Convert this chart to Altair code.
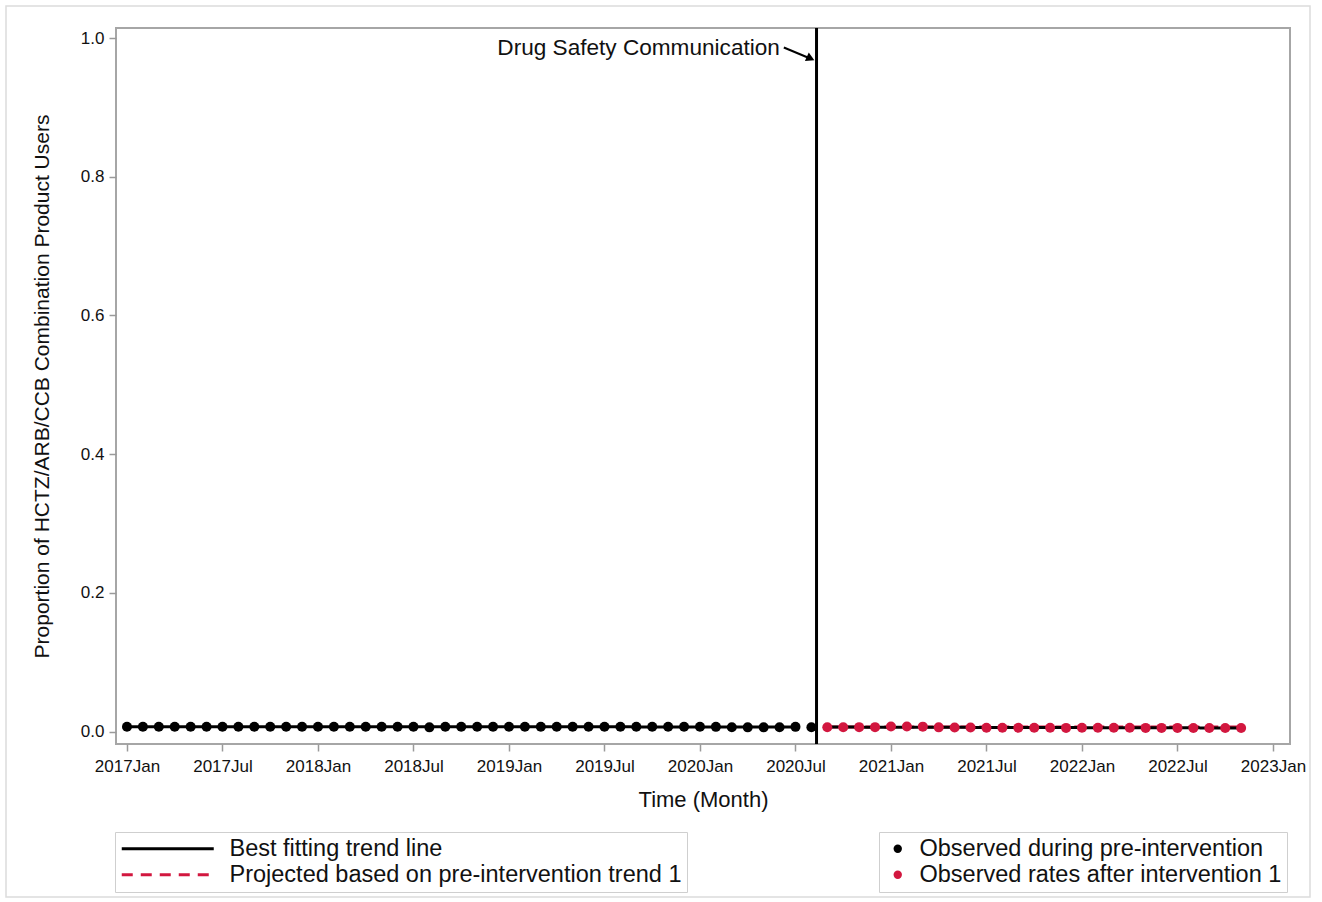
import json
import altair as alt
import pandas as pd

FONT = "Liberation Sans"
RED = "#d2173f"

# ---------------- data ----------------
pre_start = "2017-01-01"
pre_values = [
    0.0069, 0.0069, 0.0069, 0.0069, 0.0069, 0.0069, 0.0069, 0.0069, 0.0069, 0.0069, 0.0069, 0.0069,  # 2017
    0.0069, 0.0069, 0.0068, 0.0068, 0.0068, 0.0068, 0.0068, 0.0060, 0.0068, 0.0068, 0.0068, 0.0068,  # 2018
    0.0068, 0.0068, 0.0068, 0.0068, 0.0068, 0.0068, 0.0068, 0.0068, 0.0068, 0.0068, 0.0068, 0.0068,  # 2019
    0.0068, 0.0067, 0.0061, 0.0060, 0.0060, 0.0061, 0.0067, 0.0062,                                  # 2020 Jan-Aug
]
post_start = "2020-09-01"
post_values = [
    0.0062, 0.0062, 0.0063, 0.0063,                                                                  # 2020 Sep-Dec
    0.0071, 0.0071, 0.0070, 0.0060, 0.0059, 0.0059, 0.0054, 0.0054, 0.0054, 0.0054, 0.0053, 0.0052,  # 2021
    0.0053, 0.0053, 0.0053, 0.0053, 0.0052, 0.0052, 0.0052, 0.0051, 0.0051, 0.0051, 0.0051,          # 2022 Jan-Nov
]
point_series = ["Observed during pre-intervention", "Observed rates after intervention 1"]

intervention_date = "2020-08-11"

tick_labels = ["2017Jan", "2017Jul", "2018Jan", "2018Jul", "2019Jan", "2019Jul", "2020Jan",
               "2020Jul", "2021Jan", "2021Jul", "2022Jan", "2022Jul", "2023Jan"]
y_ticks = [0.0, 0.2, 0.4, 0.6, 0.8, 1.0]

line_series = ["Best fitting trend line", "Projected based on pre-intervention trend 1"]
trend_series = ["Projected based on pre-intervention trend 1", "Best fitting trend line", "Best fitting trend line"]
trend_segment = ["projected", "pre", "post"]
trend_start = ["2020-09-01", "2017-01-01", "2020-09-01"]
trend_end = ["2022-11-01", "2020-07-01", "2022-11-01"]
trend_start_value = [0.0066, 0.0069, 0.0064]
trend_end_value = [0.0064, 0.0066, 0.0051]

annotation_text = "Drug Safety Communication"
annotation_pos = (41.02, 0.9863)           # (month index, proportion)
arrow_from = (41.27, 0.9863)
arrow_to = (42.85, 0.9712)
arrow_head = (42.95, 0.9705)


def month_index(ts):
    ts = pd.Timestamp(ts)
    return (ts.year - 2017) * 12 + ts.month - 1 + (ts.day - 1) / ts.days_in_month


# ---------------- tables ----------------
pre_dates = pd.date_range(pre_start, periods=len(pre_values), freq="MS")
post_dates = pd.date_range(post_start, periods=len(post_values), freq="MS")
points_df = pd.DataFrame({
    "month": [month_index(d) for d in pre_dates] + [month_index(d) for d in post_dates],
    "value": pre_values + post_values,
    "series": [point_series[0]] * len(pre_values) + [point_series[1]] * len(post_values),
})

trend_rows = []
for s, seg, a, b, va, vb in zip(trend_series, trend_segment, trend_start, trend_end,
                                trend_start_value, trend_end_value):
    trend_rows.append({"series": s, "segment": seg, "month": month_index(a), "value": va, "order": 0})
    trend_rows.append({"series": s, "segment": seg, "month": month_index(b), "value": vb, "order": 1})
trend_df = pd.DataFrame(trend_rows)

rule_df = pd.DataFrame({"month": [month_index(intervention_date)]})
text_df = pd.DataFrame({"month": [annotation_pos[0]], "value": [annotation_pos[1]], "label": [annotation_text]})
arrow_df = pd.DataFrame({"month": [arrow_from[0]], "value": [arrow_from[1]],
                         "month2": [arrow_to[0]], "value2": [arrow_to[1]]})
head_df = pd.DataFrame({"month": [arrow_head[0]], "value": [arrow_head[1]]})
frame_df = pd.DataFrame({"k": [0]})

# ---------------- scales / axes ----------------
xscale = alt.Scale(domain=[-0.69, 73.07], nice=False, zero=False)
yscale = alt.Scale(domain=[-0.01802, 1.01442], nice=False, zero=False)

label_expr = json.dumps(tick_labels) + "[round(datum.value / 6)]"
xaxis = alt.Axis(values=list(range(0, 73, 6)), labelExpr=label_expr, grid=False, domain=False,
                 tickSize=7, tickColor="#9a9a9a", tickWidth=1.5, labelPadding=7,
                 labelFontSize=17, labelColor="#111", titleFontSize=22, titleFontWeight="normal",
                 titleColor="#111", titleY=55, titleBaseline="middle")
yaxis = alt.Axis(values=y_ticks, format=".1f", grid=False, domain=False,
                 tickSize=7, tickColor="#9a9a9a", tickWidth=1.5, labelPadding=5,
                 labelFontSize=17, labelColor="#111", titleFontSize=21, titleFontWeight="normal",
                 titleColor="#111", titleX=-74, titleY=358, titleAngle=270,
                 titleAlign="center", titleBaseline="middle")

X_TITLE = "Time (Month)"
Y_TITLE = "Proportion of HCTZ/ARB/CCB Combination Product Users"


def X(field="month"):
    return alt.X(f"{field}:Q", scale=xscale, axis=xaxis, title=X_TITLE)


def Y(field="value"):
    return alt.Y(f"{field}:Q", scale=yscale, axis=yaxis, title=Y_TITLE)


line_legend = alt.Legend(title=None, orient="none", legendX=-1, legendY=804, direction="vertical",
                         symbolType="M-1,0H8.2", symbolSize=400, symbolStrokeWidth=3,
                         labelFont=FONT, labelFontSize=23.5, labelColor="#111", labelLimit=800,
                         labelOffset=86, strokeColor="#cfcfcf", padding=5, rowPadding=1)
point_legend = alt.Legend(title=None, orient="none", legendX=763, legendY=804, direction="vertical",
                          symbolType="circle", symbolSize=70, symbolStrokeWidth=0,
                          labelFont=FONT, labelFontSize=23.5, labelColor="#111", labelLimit=800,
                          labelOffset=10, symbolOffset=2, strokeColor="#cfcfcf", padding=5, rowPadding=1)

frame = alt.Chart(frame_df).mark_rect(fill=None, stroke="#dcdcdc", strokeWidth=1.5).encode(
    x=alt.value(-110), x2=alt.value(1194), y=alt.value(-22), y2=alt.value(869))

lines = alt.Chart(trend_df).mark_line(strokeWidth=3).encode(
    x=X(), y=Y(), detail="segment:N", order="order:Q",
    stroke=alt.Stroke("series:N", scale=alt.Scale(domain=line_series, range=["black", RED]), legend=line_legend),
    strokeDash=alt.StrokeDash("series:N", scale=alt.Scale(domain=line_series, range=[[1, 0], [11, 8]]),
                              legend=line_legend),
)

points = alt.Chart(points_df).mark_circle(size=100, opacity=1).encode(
    x=X(), y=Y(),
    fill=alt.Fill("series:N", scale=alt.Scale(domain=point_series, range=["black", RED]), legend=point_legend),
)

vline = alt.Chart(rule_df).mark_rule(color="black", strokeWidth=3).encode(x=X())

arrow = alt.Chart(arrow_df).mark_rule(color="black", strokeWidth=2).encode(
    x=X(), y=Y(), x2="month2:Q", y2="value2:Q")
head = alt.Chart(head_df).mark_point(shape="triangle-right", filled=True, color="black",
                                     size=90, angle=24, opacity=1).encode(x=X(), y=Y())
text = alt.Chart(text_df).mark_text(align="right", baseline="middle", font=FONT, fontSize=22.6,
                                    color="#111").encode(x=X(), y=Y(), text="label:N")

chart = alt.layer(frame, lines, points, vline, arrow, head, text).properties(
    width=1174, height=716,
    autosize=alt.AutoSizeParams(type="none"),
    padding={"left": 116, "top": 28, "right": 32, "bottom": 158},
).configure(font=FONT).configure_view(stroke="#a6a6a6", strokeWidth=2).configure_axis(
    labelFont=FONT, titleFont=FONT)

chart.save("out.html", embed_options={"renderer": "svg", "actions": False})
